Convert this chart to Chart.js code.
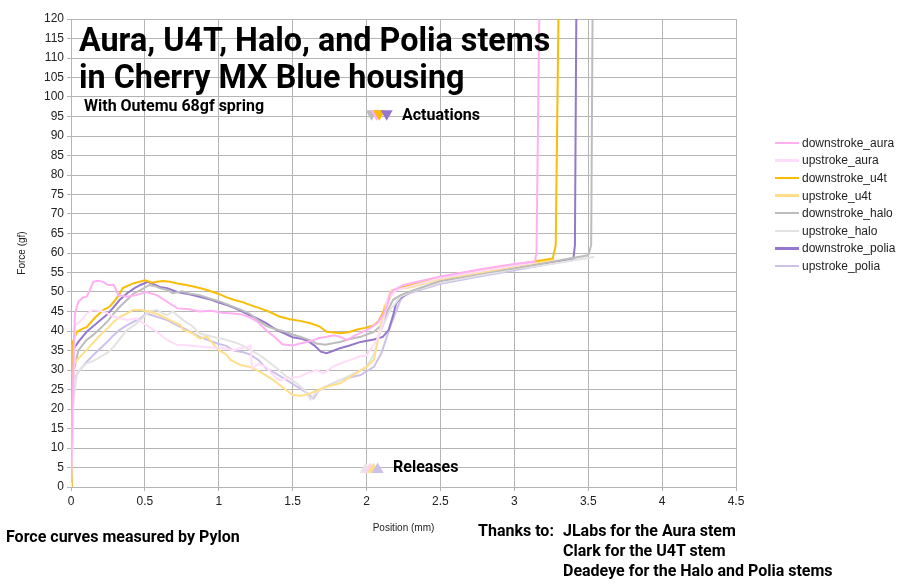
<!DOCTYPE html>
<html>
<head>
<meta charset="utf-8">
<script src="https://cdn.jsdelivr.net/npm/chart.js@4/dist/chart.umd.min.js"></script>
<style>
  html, body { margin: 0; padding: 0; background: #fff; }
  #wrap { position: relative; width: 908px; height: 587px; overflow: hidden; }
  #c { position: absolute; left: 0; top: 0; }
  .t { position: absolute; font-family: Roboto, "Noto Sans", sans-serif; font-weight: 700; color: #000; white-space: nowrap; }
  #title { left: 79px; top: 22px; font-size: 32.3px; line-height: 37px; }
  #sub { left: 84px; top: 96px; font-size: 16px; line-height: 20px; }
  #act { left: 402px; top: 105px; font-size: 16px; line-height: 20px; }
  #rel { left: 393px; top: 457px; font-size: 16px; line-height: 20px; }
  #foot { left: 6px; top: 527px; font-size: 16px; line-height: 20px; }
  #thanks { left: 478px; top: 521px; font-size: 16px; line-height: 20px; }
  #thanksList { left: 563px; top: 521px; font-size: 16px; line-height: 20px; }
  #legend { position: absolute; left: 775px; top: 134px; font-family: "Liberation Sans", Arial, sans-serif; font-size: 12px; color: #222; }
  #legend .row { height: 17.6px; display: flex; align-items: center; white-space: nowrap; }
  #legend .sw { width: 24px; height: 2.5px; margin-right: 3px; }
</style>
</head>
<body>
<div id="wrap">
  <canvas id="c" width="908" height="587"></canvas>
  <div class="t" id="title">Aura, U4T, Halo, and Polia stems<br>in Cherry MX Blue housing</div>
  <div class="t" id="sub">With Outemu 68gf spring</div>
  <div class="t" id="act">Actuations</div>
  <div class="t" id="rel">Releases</div>
  <div class="t" id="foot">Force curves measured by Pylon</div>
  <div class="t" id="thanks">Thanks to:</div>
  <div class="t" id="thanksList">JLabs for the Aura stem<br>Clark for the U4T stem<br>Deadeye for the Halo and Polia stems</div>
  <div id="legend"></div>
</div>
<script>
// ---------- data ----------
const seriesNames = ["downstroke_aura", "upstroke_aura", "downstroke_u4t", "upstroke_u4t",
                     "downstroke_halo", "upstroke_halo", "downstroke_polia", "upstroke_polia"];

const xTicks = [0, 0.5, 1, 1.5, 2, 2.5, 3, 3.5, 4, 4.5];
const xTickLabels = ["0", "0.5", "1", "1.5", "2", "2.5", "3", "3.5", "4", "4.5"];
const yTicks = [0, 5, 10, 15, 20, 25, 30, 35, 40, 45, 50, 55, 60, 65, 70, 75, 80, 85, 90, 95, 100, 105, 110, 115, 120];

const downAuraX = [0, 0.01, 0.02, 0.027, 0.05, 0.08, 0.106, 0.128, 0.15, 0.18, 0.22, 0.25, 0.29, 0.32, 0.38, 0.44, 0.51, 0.58, 0.65, 0.72, 0.8, 0.87, 0.95, 1.02, 1.1, 1.16, 1.21, 1.26, 1.32, 1.38, 1.43, 1.5, 1.55, 1.62, 1.68, 1.73, 1.78, 1.82, 1.87, 1.92, 1.96, 2.02, 2.07, 2.11, 2.14, 2.16, 2.19, 2.25, 2.5, 2.8, 3.0, 3.14, 3.15, 3.17];
const downAuraY = [1, 20, 38, 44.6, 47.5, 48.6, 48.8, 50.5, 52.6, 52.9, 52.6, 51.8, 51.8, 49.2, 48.8, 49.2, 50, 49.2, 47.5, 45.8, 45.6, 45, 45.2, 44.7, 44.5, 44.2, 43.5, 42.4, 40.2, 38.4, 36.6, 36.3, 36.8, 37.4, 38.2, 38.5, 38.9, 38.5, 37.7, 38.8, 39.5, 40.6, 42, 44, 46.5, 49.7, 50.6, 51.8, 54.0, 56.0, 57.2, 57.8, 60, 125];

const upAuraX = [0, 0.01, 0.02, 0.027, 0.06, 0.106, 0.15, 0.22, 0.29, 0.38, 0.44, 0.51, 0.58, 0.65, 0.72, 0.76, 0.87, 0.95, 1.02, 1.1, 1.15, 1.2, 1.215, 1.225, 1.27, 1.32, 1.37, 1.41, 1.46, 1.55, 1.6, 1.66, 1.71, 1.77, 1.83, 1.89, 1.95, 2.0, 2.07, 2.11, 2.14, 2.2, 2.3, 2.5, 2.8, 3.0, 3.14];
const upAuraY = [0, 12, 30, 41.5, 42.4, 44.5, 45.4, 45, 43.7, 42.8, 43.2, 41.5, 39.8, 37.7, 36.4, 36.4, 36, 35.8, 35.7, 35.1, 35.6, 36, 36.4, 30.5, 31.5, 30.8, 28.6, 27.4, 27.8, 28.3, 29.2, 30, 29.1, 30.8, 31.8, 32.6, 33.4, 33.8, 37.7, 42, 48, 50.5, 51.5, 53.6, 55.5, 56.8, 57.6];

const downU4tX = [0, 0.005, 0.01, 0.04, 0.08, 0.106, 0.14, 0.17, 0.22, 0.26, 0.29, 0.32, 0.35, 0.42, 0.5, 0.55, 0.58, 0.62, 0.67, 0.72, 0.78, 0.85, 0.92, 1.0, 1.05, 1.1, 1.16, 1.21, 1.28, 1.35, 1.41, 1.48, 1.55, 1.62, 1.68, 1.73, 1.78, 1.82, 1.88, 1.93, 1.99, 2.05, 2.08, 2.11, 2.15, 2.18, 2.2, 2.25, 2.5, 2.8, 3.0, 3.26, 3.28, 3.30];
const downU4tY = [0, 20, 37, 39.8, 40.6, 41, 42.5, 43.7, 45.4, 46.2, 47.5, 49, 51, 52.2, 53, 52.4, 52.6, 52.8, 52.6, 52.2, 51.8, 51.2, 50.5, 49.5, 48.7, 48, 47.4, 46.7, 45.8, 44.8, 43.7, 43, 42.6, 42, 41.2, 39.8, 39.6, 39.4, 39.7, 40.3, 40.8, 41.5, 42.5, 44.6, 48, 50.3, 50.5, 51.3, 53.7, 55.6, 57.0, 58.6, 62, 125];

const upU4tX = [0, 0.005, 0.01, 0.03, 0.05, 0.106, 0.15, 0.2, 0.25, 0.29, 0.33, 0.38, 0.42, 0.47, 0.53, 0.6, 0.65, 0.69, 0.74, 0.76, 0.82, 0.87, 0.92, 1.0, 1.05, 1.08, 1.1, 1.15, 1.21, 1.28, 1.37, 1.44, 1.5, 1.56, 1.62, 1.68, 1.73, 1.82, 1.9, 2.0, 2.05, 2.09, 2.12, 2.17, 2.3, 2.5, 2.8, 3.0, 3.27];
const upU4tY = [0, 20, 36.5, 32, 33, 35.1, 37, 39, 40.8, 42.4, 43.6, 44.5, 45.4, 45.4, 45, 44.1, 43.2, 42.4, 41.5, 40.3, 39.5, 38.1, 38.5, 35.1, 34, 32.6, 32.2, 31.2, 30.8, 29.5, 27.4, 25.3, 23.6, 23.4, 24, 25, 25.7, 26.6, 28.5, 30.8, 32.6, 40.3, 46.2, 50.5, 51.2, 53.3, 55.2, 56.6, 58.3];

const downHaloX = [0, 0.01, 0.02, 0.05, 0.08, 0.106, 0.15, 0.2, 0.25, 0.29, 0.33, 0.38, 0.42, 0.47, 0.53, 0.57, 0.6, 0.65, 0.69, 0.75, 0.8, 0.87, 0.95, 1.02, 1.1, 1.16, 1.21, 1.27, 1.32, 1.38, 1.45, 1.5, 1.56, 1.62, 1.66, 1.72, 1.78, 1.82, 1.88, 1.96, 2.05, 2.1, 2.14, 2.18, 2.23, 2.3, 2.5, 2.8, 3.0, 3.3, 3.5, 3.52, 3.53];
const downHaloY = [0, 15, 30, 35, 36.5, 37.7, 39, 40.7, 42.6, 44.5, 46.2, 48, 49.5, 50.5, 51.8, 51.5, 51, 50.5, 49.7, 50.2, 49.6, 49.2, 48.2, 47.4, 46.2, 45.3, 44.4, 42.6, 41.3, 40.5, 39.8, 39.1, 38.4, 37.6, 36.8, 36.5, 36.9, 37.2, 37.9, 38.5, 39.8, 41.5, 45, 48, 49.2, 50.2, 52.9, 54.9, 56.1, 58.1, 59.4, 62, 125];

const upHaloX = [0, 0.01, 0.015, 0.04, 0.07, 0.106, 0.15, 0.2, 0.25, 0.29, 0.33, 0.38, 0.43, 0.47, 0.53, 0.58, 0.62, 0.65, 0.69, 0.72, 0.76, 0.82, 0.87, 0.95, 1.02, 1.1, 1.16, 1.21, 1.27, 1.32, 1.39, 1.46, 1.53, 1.58, 1.62, 1.66, 1.73, 1.8, 1.87, 1.94, 2.0, 2.05, 2.09, 2.16, 2.23, 2.3, 2.5, 2.8, 3.0, 3.3, 3.54];
const upHaloY = [0, 12, 21.5, 29.1, 30.5, 31.7, 32.3, 33.4, 34.5, 36, 38, 40.3, 41.5, 42.8, 45, 45.4, 44.5, 44.1, 45, 44, 42.8, 41.3, 39.4, 38.6, 38.0, 37.2, 36.3, 35.1, 34, 32.6, 30.5, 28.3, 26.5, 24.9, 22.5, 24.2, 25.7, 27, 28.3, 29.6, 30.8, 34, 39.4, 45.4, 48.8, 50.0, 52.4, 54.5, 55.8, 57.5, 59];

const downPoliaX = [0, 0.005, 0.01, 0.05, 0.08, 0.106, 0.15, 0.2, 0.25, 0.29, 0.33, 0.38, 0.43, 0.47, 0.52, 0.56, 0.6, 0.65, 0.72, 0.8, 0.87, 0.95, 1.0, 1.05, 1.1, 1.16, 1.21, 1.26, 1.32, 1.39, 1.45, 1.5, 1.55, 1.6, 1.65, 1.69, 1.73, 1.78, 1.82, 1.88, 1.96, 2.05, 2.11, 2.15, 2.18, 2.2, 2.23, 2.3, 2.5, 2.8, 3.0, 3.2, 3.4, 3.41, 3.42];
const downPoliaY = [0, 18, 35, 37.2, 38.6, 39.8, 41.2, 42.8, 44.4, 46.2, 48, 49.7, 51, 51.8, 52.6, 52, 51.3, 51, 50, 49.4, 48.8, 48, 47.3, 46.7, 46, 45, 44, 43.2, 42, 40.3, 39.3, 38.4, 38.1, 37.5, 36.2, 34.7, 34.3, 35, 35.6, 36.2, 37.2, 37.8, 38.5, 40.3, 44, 47.1, 48.5, 50, 52.6, 54.6, 55.9, 57.2, 58.6, 62, 125];

const upPoliaX = [0, 0.01, 0.015, 0.06, 0.106, 0.15, 0.2, 0.25, 0.29, 0.33, 0.38, 0.43, 0.47, 0.51, 0.57, 0.65, 0.7, 0.76, 0.82, 0.87, 0.99, 1.05, 1.1, 1.16, 1.21, 1.27, 1.32, 1.39, 1.46, 1.53, 1.6, 1.64, 1.68, 1.75, 1.82, 1.9, 1.96, 2.05, 2.1, 2.16, 2.23, 2.26, 2.3, 2.5, 2.8, 3.0, 3.2, 3.42];
const upPoliaY = [0, 15, 27.4, 30, 32.1, 33.8, 35.6, 37.4, 39, 40.3, 41.5, 42.5, 43.2, 44.5, 43.8, 42.8, 41.8, 40.7, 39.6, 38.5, 36.8, 36.2, 35.0, 34.6, 34.0, 32.5, 30.4, 29, 27.4, 25.7, 24, 22.7, 24.9, 26.2, 27.4, 28.2, 28.7, 30.8, 34.3, 41.1, 48, 49.2, 49.8, 52.1, 54.2, 55.6, 56.9, 58.3];

// marker annotations (Actuations / Releases)
const actuationX = [2.034, 2.068, 2.086, 2.136];
const actuationY = [95.7, 95.7, 95.7, 95.7];
const releaseX = [1.994, 2.023, 2.045, 2.075];
const releaseY = [4.5, 4.5, 4.5, 4.5];

// ---------- styles ----------
const seriesColors = ["#ffb0f2", "#ffdcf9", "#fbbc04", "#ffdf8a", "#bdbdbd", "#e3e3e3", "#9577cd", "#cdc1ea"];
const actuationColors = ["#bdbdbd", "#ffb0f2", "#fbbc04", "#9577cd"];
const releaseColors = ["#e6e6e6", "#ffd2f5", "#ffdf8a", "#cdc1ea"];

const seriesX = [downAuraX, upAuraX, downU4tX, upU4tX, downHaloX, upHaloX, downPoliaX, upPoliaX];
const seriesY = [downAuraY, upAuraY, downU4tY, upU4tY, downHaloY, upHaloY, downPoliaY, upPoliaY];

function pts(xs, ys) { return xs.map((x, i) => ({ x: x, y: ys[i] })); }

const datasets = seriesNames.map((name, i) => ({
  label: name,
  data: pts(seriesX[i], seriesY[i]),
  showLine: true,
  borderColor: seriesColors[i],
  backgroundColor: seriesColors[i],
  borderWidth: 2,
  pointRadius: 0,
  pointHoverRadius: 0,
  tension: 0
}));

datasets.unshift({
  label: "Releases",
  data: pts(releaseX, releaseY),
  showLine: false,
  pointStyle: "triangle",
  pointRadius: 7,
  rotation: 0,
  backgroundColor: releaseColors,
  borderWidth: 0
});
datasets.unshift({
  label: "Actuations",
  data: pts(actuationX, actuationY),
  showLine: false,
  pointStyle: "triangle",
  pointRadius: 7,
  rotation: 180,
  backgroundColor: actuationColors,
  borderWidth: 0
});

// legend (HTML, generated from the series names)
const leg = document.getElementById("legend");
seriesNames.forEach((n, i) => {
  const r = document.createElement("div");
  r.className = "row";
  const s = document.createElement("span");
  s.className = "sw";
  s.style.background = seriesColors[i];
  const t = document.createElement("span");
  t.textContent = n;
  r.appendChild(s); r.appendChild(t);
  leg.appendChild(r);
});

const tickFont = { family: "'Liberation Sans', Arial, sans-serif", size: 12 };
const gridColor = "#b5b5b5";

new Chart(document.getElementById("c"), {
  type: "scatter",
  data: { datasets: datasets },
  options: {
    responsive: false,
    animation: false,
    devicePixelRatio: 1,
    layout: { padding: { left: 0, top: 19, right: 172, bottom: 0 } },
    plugins: { legend: { display: false }, tooltip: { enabled: false } },
    scales: {
      x: {
        type: "linear",
        min: 0, max: 4.5,
        afterBuildTicks: (s) => { s.ticks = xTicks.map(v => ({ value: v })); },
        afterFit: (s) => { s.height = 100; },
        ticks: { font: tickFont, color: "#222", padding: 3, maxRotation: 0, autoSkip: false,
                 callback: (v) => { const k = xTicks.indexOf(v); return k >= 0 ? xTickLabels[k] : String(v); } },
        grid: { color: gridColor, tickLength: 4, drawTicks: true },
        border: { color: gridColor },
        title: { display: true, text: "Position (mm)", color: "#222",
                 font: { family: "'Liberation Sans', Arial, sans-serif", size: 10 },
                 padding: { top: 0, bottom: 53 } }
      },
      y: {
        type: "linear",
        min: 0, max: 120,
        afterBuildTicks: (s) => { s.ticks = yTicks.map(v => ({ value: v })); },
        afterFit: (s) => { s.width = 71; },
        ticks: { font: tickFont, color: "#222", padding: 3, autoSkip: false },
        grid: { color: gridColor, tickLength: 4, drawTicks: true },
        border: { color: gridColor },
        title: { display: true, text: "Force (gf)", color: "#222",
                 font: { family: "'Liberation Sans', Arial, sans-serif", size: 10 },
                 padding: { top: 16, bottom: 0 } }
      }
    }
  }
});
</script>
</body>
</html>
